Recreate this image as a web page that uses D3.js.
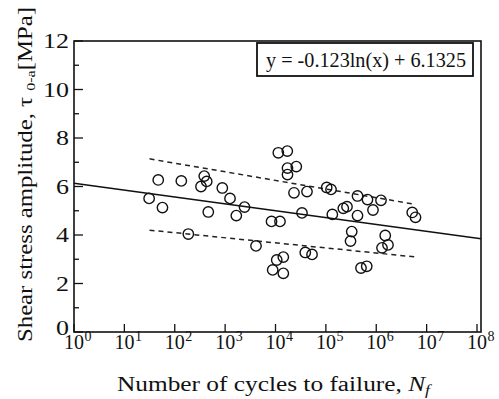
<!DOCTYPE html>
<html>
<head>
<meta charset="utf-8">
<script src="https://cdn.jsdelivr.net/npm/d3@7"></script>
<style>
  body { margin: 0; background: #fff; }
  svg { display: block; font-family: "Liberation Serif", "DejaVu Serif", serif; }
</style>
</head>
<body>
<svg id="chart" width="499" height="399"></svg>
<script>
// data
const cycles = [31, 47, 57, 135, 186, 385, 332, 431, 463, 879, 1250, 1667, 2427, 4102, 8337, 12270,
  8790, 10570, 14290, 14290, 11380, 17140, 17300, 25880, 17300, 23280, 42170, 33570, 38990, 53090,
  103700, 126500, 134300, 221800, 262400, 325800, 308300, 424600, 424600, 497700, 647100, 669900,
  861000, 1242000, 1507000, 1710000, 1300000, 5176000, 6012000]
const stress = [5.51, 6.27, 5.13, 6.23, 4.04, 6.43, 6.00, 6.21, 4.95, 5.94, 5.51, 4.80, 5.15, 3.55, 4.56, 4.56,
  2.56, 2.97, 3.09, 2.42, 7.39, 7.46, 6.76, 6.82, 6.49, 5.74, 5.79, 4.91, 3.28, 3.20,
  5.96, 5.88, 4.85, 5.10, 5.17, 4.14, 3.75, 5.61, 4.80, 2.64, 2.71, 5.46,
  5.03, 5.43, 3.98, 3.59, 3.47, 4.93, 4.73]

// fit y = a ln(x) + b
const fitA = -0.123
const fitB = 6.1325

// scatter band (dashed)
const upperBand = [[31.6, 7.14], [5370000, 5.28]]
const lowerBand = [[31.6, 4.20], [6300000, 3.09]]

const xExponents = [0, 1, 2, 3, 4, 5, 6, 7, 8]
const yTicks = [0, 2, 4, 6, 8, 10, 12]
const yMinor = [1, 3, 5, 7, 9, 11]

const svg = d3.select('#chart')

const plotLeft = 74, plotRight = 481, plotTop = 41, plotBottom = 332

//svg scaling
const xScale = d3.scaleLog().domain([1, 1.2e8]).range([plotLeft, plotRight])
const yScale = d3.scaleLinear().domain([0, 12]).range([plotBottom, plotTop])

const fontSize = 20

//frame
svg.append('rect')
  .attr('x', plotLeft).attr('y', plotTop)
  .attr('width', plotRight - plotLeft).attr('height', plotBottom - plotTop)
  .attr('fill', 'none').attr('stroke', '#111').attr('stroke-width', 1.6)

//ticks
svg.append('g').selectAll('line').data(xExponents).enter().append('line')
  .attr('x1', d => xScale(Math.pow(10, d))).attr('x2', d => xScale(Math.pow(10, d)))
  .attr('y1', plotBottom).attr('y2', plotBottom - 8)
  .attr('stroke', '#111').attr('stroke-width', 1.3)

svg.append('g').selectAll('line').data(yTicks).enter().append('line')
  .attr('x1', plotLeft).attr('x2', plotLeft + 9)
  .attr('y1', d => yScale(d)).attr('y2', d => yScale(d))
  .attr('stroke', '#111').attr('stroke-width', 1.3)

svg.append('g').selectAll('line').data(yMinor).enter().append('line')
  .attr('x1', plotLeft).attr('x2', plotLeft + 5)
  .attr('y1', d => yScale(d)).attr('y2', d => yScale(d))
  .attr('stroke', '#111').attr('stroke-width', 1.3)

//tick labels (the original font is a bit wider)
svg.append('g').selectAll('text').data(yTicks).enter().append('text')
  .attr('transform', d => `translate(${plotLeft - 5}, ${yScale(d) + (d === 0 ? 3 : 7)}) scale(1.3,1)`)
  .attr('text-anchor', 'end')
  .attr('font-size', fontSize)
  .attr('fill', '#111')
  .text(d => d)

const xLabels = svg.append('g').selectAll('g').data(xExponents).enter().append('g')
xLabels.append('text')
  .attr('x', d => xScale(Math.pow(10, d)))
  .attr('y', 349)
  .attr('text-anchor', 'middle')
  .attr('font-size', fontSize)
  .attr('fill', '#111')
  .text('10')
xLabels.append('text')
  .attr('x', d => xScale(Math.pow(10, d)) + 10.5)
  .attr('y', 341)
  .attr('font-size', 14)
  .attr('fill', '#111')
  .text(d => d)

//fitted line + band
const line = d3.line().x(d => xScale(d[0])).y(d => yScale(d[1]))
const fitPts = xScale.domain().map(x => [x, fitA * Math.log(x) + fitB])

svg.append('path').datum(fitPts)
  .attr('d', line).attr('fill', 'none')
  .attr('stroke', '#111').attr('stroke-width', 1.5)

svg.append('g').selectAll('path').data([upperBand, lowerBand]).enter().append('path')
  .attr('d', line).attr('fill', 'none')
  .attr('stroke', '#222').attr('stroke-width', 1.5)
  .attr('stroke-dasharray', '5,4')

//points
svg.append('g').selectAll('circle').data(cycles).enter().append('circle')
  .attr('cx', d => xScale(d))
  .attr('cy', (d, i) => yScale(stress[i]))
  .attr('r', 5.2)
  .attr('fill', 'none')
  .attr('stroke', '#111')
  .attr('stroke-width', 1.4)

//equation box
svg.append('rect')
  .attr('x', 257).attr('y', 43).attr('width', 216).attr('height', 33)
  .attr('fill', '#fff').attr('stroke', '#111').attr('stroke-width', 1.8)
svg.append('text')
  .attr('x', 266).attr('y', 67)
  .attr('font-size', fontSize)
  .attr('fill', '#111')
  .attr('textLength', 200)
  .attr('lengthAdjust', 'spacingAndGlyphs')
  .text('y = -0.123ln(x) + 6.1325')

//axis titles
const xTitle = svg.append('text')
  .attr('x', 117).attr('y', 391)
  .attr('font-size', fontSize)
  .attr('fill', '#111')
  .attr('textLength', 313)
  .attr('lengthAdjust', 'spacingAndGlyphs')
xTitle.append('tspan').text('Number of cycles to failure,  ')
xTitle.append('tspan').attr('font-style', 'italic').text('N')
xTitle.append('tspan').attr('font-style', 'italic').attr('font-size', 14).attr('dy', 4).text('f')

const yTitle = svg.append('text')
  .attr('transform', 'translate(32,342) rotate(-90)')
  .attr('font-size', fontSize)
  .attr('fill', '#111')
  .attr('textLength', 335)
  .attr('lengthAdjust', 'spacingAndGlyphs')
yTitle.append('tspan').text('Shear stress amplitude,  τ ')
yTitle.append('tspan').attr('font-size', 13).attr('dy', 3).text('0-a')
yTitle.append('tspan').attr('dy', -3).text('[MPa]')
</script>
</body>
</html>
